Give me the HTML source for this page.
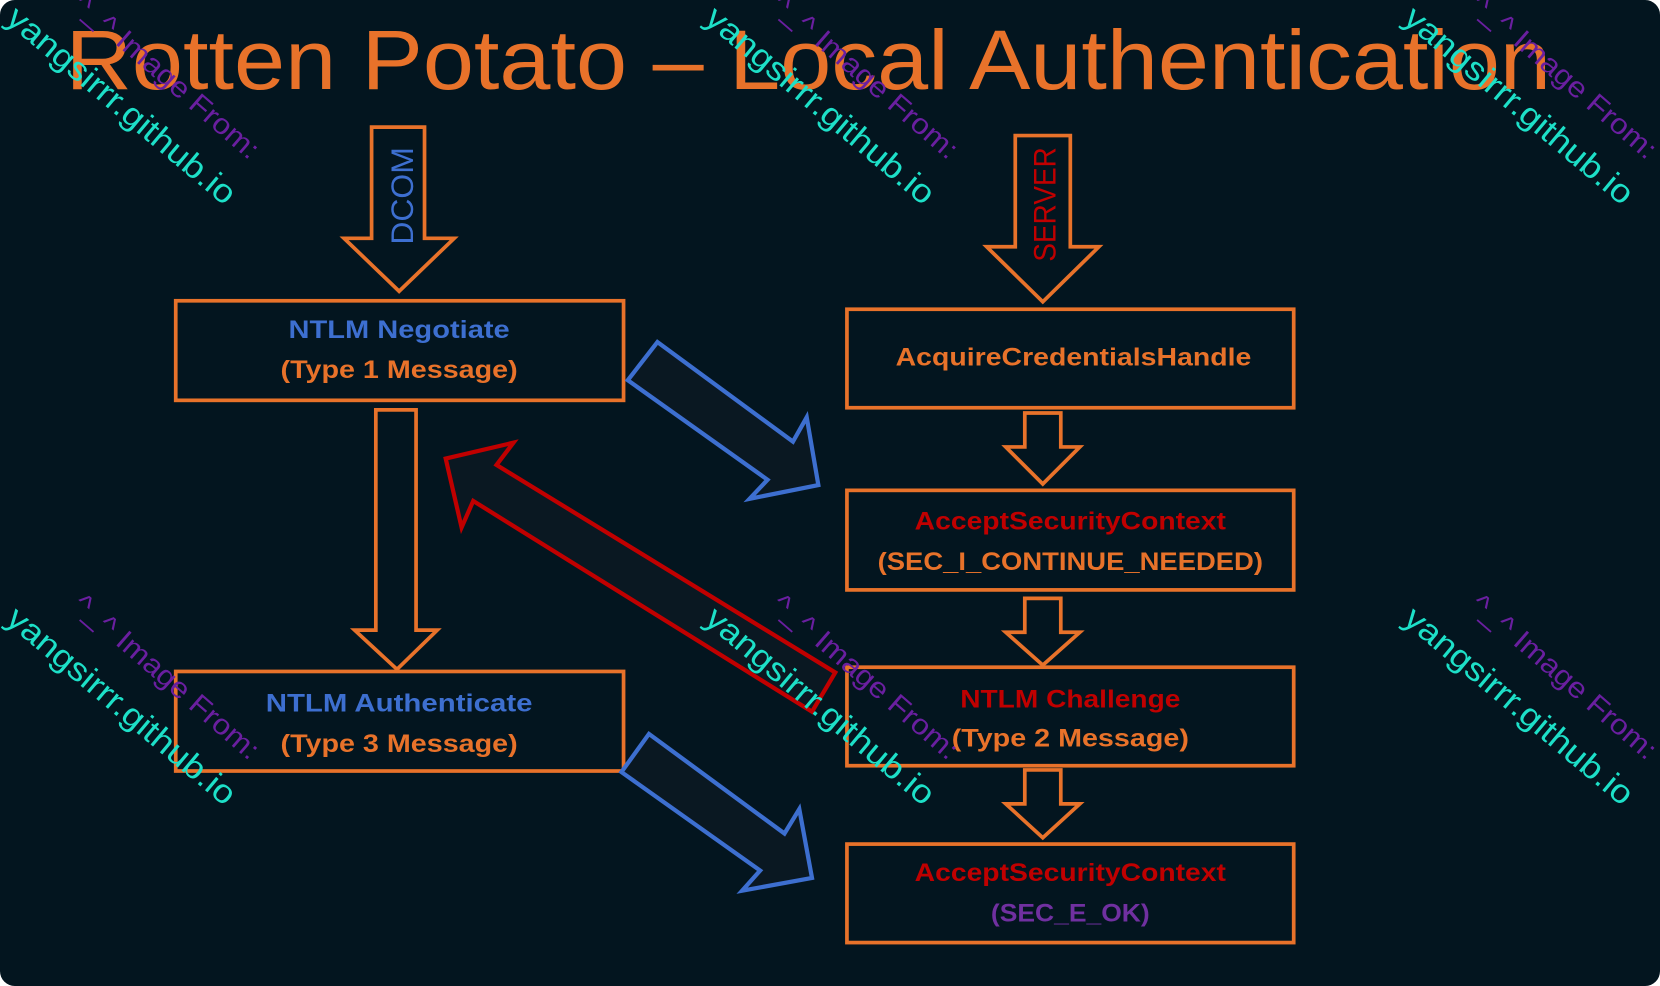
<!DOCTYPE html>
<html><head><meta charset="utf-8"><style>
html,body{margin:0;padding:0;background:#fff;}
svg{display:block;}
text{font-family:"Liberation Sans",sans-serif;}
</style></head><body>
<svg width="1660" height="986" viewBox="0 0 1568 931" preserveAspectRatio="none" xmlns="http://www.w3.org/2000/svg">
<rect x="0" y="0" width="1568" height="931" rx="14" fill="#03151f"/>
<text x="62" y="84" font-size="80" fill="#e8722a" textLength="1403" lengthAdjust="spacingAndGlyphs">Rotten Potato – Local Authentication</text>

<g fill="#03151f" stroke="#e8722a" stroke-width="3.5" stroke-linejoin="miter">
<polygon points="351,120 401,120 401,225 429,225 377,275 325,225 351,225"/>
<polygon points="959,128 1011,128 1011,233 1038,233 985,285 932,233 959,233"/>
<polygon points="355,387 393,387 393,595 413,595 375,632 335,595 355,595"/>
<polygon points="968,390 1002,390 1002,422 1020,422 985,457 950,422 968,422"/>
<polygon points="968,565 1002,565 1002,597 1020,597 985,628 950,597 968,597"/>
<polygon points="968,727 1002,727 1002,759 1020,759 985,791 950,759 968,759"/>
<rect x="166" y="284" width="423" height="94"/>
<rect x="800" y="292" width="422" height="93"/>
<rect x="800" y="463" width="422" height="94"/>
<rect x="800" y="630" width="422" height="93"/>
<rect x="800" y="797" width="422" height="93"/>
<rect x="166" y="634" width="423" height="94"/>
</g>
<g fill="#0a1822" stroke-width="4" stroke-linejoin="miter">
<polygon stroke="#3d6fd0" points="621,323 749,417 762,394 773,458 708,471 725,453 593,359"/>
<polygon stroke="#3d6fd0" points="613,693 741,787 755,764 767,829 701,841 718,822 587,729"/>
<polygon stroke="#c00000" points="421,433 485,418 469,439 789,635 767,672 447,473 436,498"/>
</g>

<text transform="translate(390,185) rotate(-90)" text-anchor="middle" font-size="30" fill="#3d6fd0" textLength="92" lengthAdjust="spacingAndGlyphs">DCOM</text>
<text transform="translate(997,193) rotate(-90)" text-anchor="middle" font-size="30" fill="#c00000" textLength="108" lengthAdjust="spacingAndGlyphs">SERVER</text>

<g font-size="24" font-weight="bold" text-anchor="middle">
<text x="377" y="319" fill="#3d6fd0" textLength="209" lengthAdjust="spacingAndGlyphs">NTLM Negotiate</text>
<text x="377" y="357" fill="#e8722a" textLength="224" lengthAdjust="spacingAndGlyphs">(Type 1 Message)</text>
<text x="1014" y="345" fill="#e8722a" textLength="336" lengthAdjust="spacingAndGlyphs">AcquireCredentialsHandle</text>
<text x="1011" y="500" fill="#c00000" textLength="294" lengthAdjust="spacingAndGlyphs">AcceptSecurityContext</text>
<text x="1011" y="538" fill="#e8722a" textLength="364" lengthAdjust="spacingAndGlyphs">(SEC_I_CONTINUE_NEEDED)</text>
<text x="1011" y="668" fill="#c00000" textLength="208" lengthAdjust="spacingAndGlyphs">NTLM Challenge</text>
<text x="1011" y="705" fill="#e8722a" textLength="224" lengthAdjust="spacingAndGlyphs">(Type 2 Message)</text>
<text x="1011" y="832" fill="#c00000" textLength="294" lengthAdjust="spacingAndGlyphs">AcceptSecurityContext</text>
<text x="1011" y="870" fill="#7030a0" textLength="150" lengthAdjust="spacingAndGlyphs">(SEC_E_OK)</text>
<text x="377" y="672" fill="#3d6fd0" textLength="252" lengthAdjust="spacingAndGlyphs">NTLM Authenticate</text>
<text x="377" y="710" fill="#e8722a" textLength="224" lengthAdjust="spacingAndGlyphs">(Type 3 Message)</text>
</g>

<defs>
<g id="wm">
<text transform="translate(68,6) rotate(41)" font-size="27" fill="#6a1fa0" font-family="Liberation Sans, sans-serif" textLength="222" lengthAdjust="spacingAndGlyphs">^_^ Image From:</text>
<text transform="translate(4,20) rotate(40)" font-size="31" fill="#1de0c8" font-family="Liberation Sans, sans-serif" textLength="272" lengthAdjust="spacingAndGlyphs">yangsirrr.github.io</text>
</g>
</defs>
<use href="#wm" x="0" y="0"/>
<use href="#wm" x="660" y="0"/>
<use href="#wm" x="1320" y="0"/>
<use href="#wm" x="0" y="567"/>
<use href="#wm" x="660" y="567"/>
<use href="#wm" x="1320" y="567"/>
</svg>
</body></html>
